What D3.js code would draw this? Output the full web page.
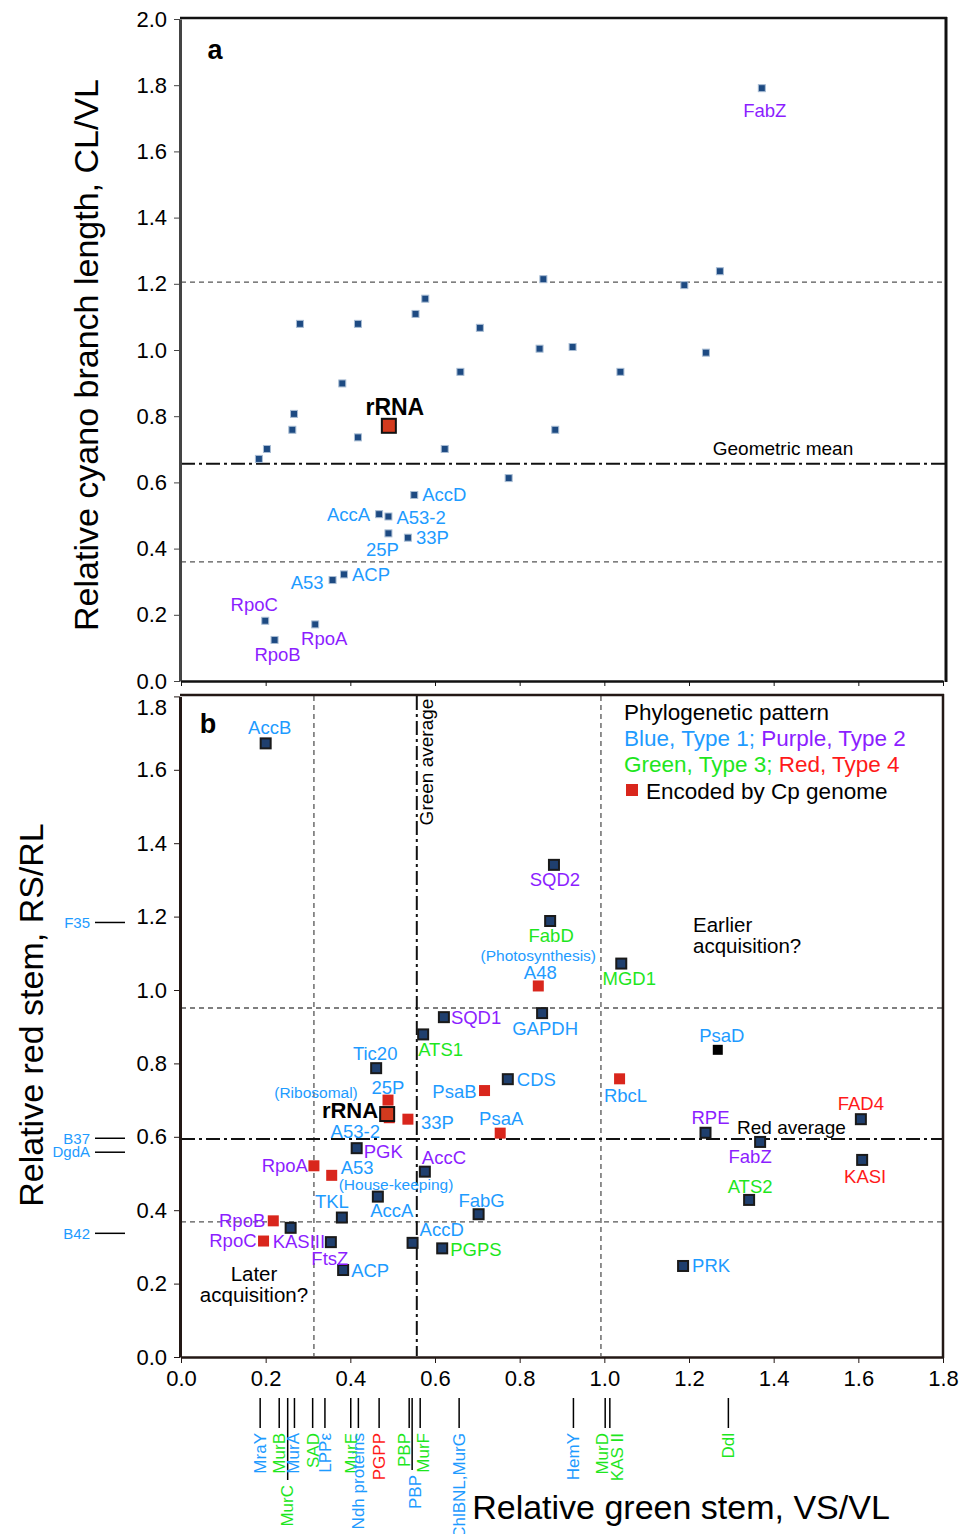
<!DOCTYPE html>
<html>
<head>
<meta charset="utf-8">
<script src="https://cdn.jsdelivr.net/npm/d3@7"></script>
<style>
  body { margin: 0; background: #fff; }
  svg { display: block; font-family: "Liberation Sans", Arial, sans-serif; }
</style>
</head>
<body>
<svg id="chart" width="970" height="1534"></svg>
<script>
'use strict';

// ---- data ----
var typeColors = { blue: '#1e9bff', purple: '#8c1eff', green: '#1ee61e', red: '#ff1a1a', black: '#000' };

// panel a : cyano branch length vs green stem
var aNames = ['', '', '', '', '', '', '', '', '', '', '', '', '', '', '', '', '', '', '', '', '', '',
  'FabZ', 'rRNA', 'AccD', 'AccA', 'A53-2', '25P', '33P', 'A53', 'ACP', 'RpoC', 'RpoB', 'RpoA'];
var aX = [0.184, 0.203, 0.263, 0.267, 0.281, 0.381, 0.418, 0.418, 0.554, 0.577, 0.623, 0.660, 0.706, 0.774,
  0.847, 0.856, 0.884, 0.925, 1.038, 1.189, 1.240, 1.273,
  1.372, 0.491, 0.551, 0.468, 0.490, 0.490, 0.536, 0.358, 0.385, 0.199, 0.221, 0.317];
var aY = [0.671, 0.701, 0.759, 0.807, 1.079, 0.899, 1.079, 0.736, 1.109, 1.155, 0.701, 0.934, 1.067, 0.613,
  1.004, 1.214, 0.759, 1.009, 0.934, 1.196, 0.992, 1.238,
  1.791, 0.771, 0.562, 0.504, 0.497, 0.446, 0.433, 0.305, 0.322, 0.182, 0.124, 0.171];
var aTypes = ['', '', '', '', '', '', '', '', '', '', '', '', '', '', '', '', '', '', '', '', '', '',
  'purple', 'black', 'blue', 'blue', 'blue', 'blue', 'blue', 'blue', 'blue', 'purple', 'purple', 'purple'];
var aLines = { upper: 1.205, mean: 0.656, lower: 0.36 };

// panel b : red stem vs green stem
var bNames = ['AccB', 'SQD2', 'FabD', 'A48', 'MGD1', 'SQD1', 'GAPDH', 'ATS1', 'Tic20', 'CDS', 'PsaB', 'RbcL',
  'PsaD', '25P', 'A53-2', 'rRNA', '33P', 'PsaA', 'RPE', 'FabZ', 'FAD4', 'KASI', 'ATS2', 'PGK', 'RpoA', 'A53',
  'AccC', 'AccA', 'TKL', 'FabG', 'RpoB', 'KASIII', 'RpoC', 'FtsZ', 'AccD', 'PGPS', 'ACP', 'PRK'];
var bX = [0.200, 0.881, 0.872, 0.844, 1.040, 0.621, 0.853, 0.572, 0.461, 0.772, 0.717, 1.036,
  1.268, 0.489, 0.492, 0.487, 0.536, 0.754, 1.239, 1.368, 1.606, 1.609, 1.342, 0.415, 0.314, 0.356,
  0.576, 0.465, 0.380, 0.703, 0.218, 0.259, 0.195, 0.354, 0.547, 0.617, 0.383, 1.186];
var bY = [1.672, 1.341, 1.188, 1.011, 1.072, 0.926, 0.937, 0.879, 0.787, 0.757, 0.726, 0.758,
  0.837, 0.700, 0.652, 0.662, 0.648, 0.610, 0.611, 0.586, 0.648, 0.537, 0.428, 0.569, 0.521, 0.495,
  0.505, 0.437, 0.380, 0.389, 0.371, 0.352, 0.316, 0.313, 0.311, 0.296, 0.237, 0.248];
var bTypes = ['blue', 'purple', 'green', 'blue', 'green', 'purple', 'blue', 'green', 'blue', 'blue', 'blue', 'blue',
  'blue', 'blue', 'blue', 'black', 'blue', 'blue', 'purple', 'purple', 'red', 'red', 'green', 'purple', 'purple', 'blue',
  'purple', 'blue', 'blue', 'blue', 'purple', 'purple', 'purple', 'purple', 'blue', 'green', 'blue', 'blue'];
// nuc = nuclear, cp = encoded by Cp genome
var bMarkers = ['nuc', 'nuc', 'nuc', 'cp', 'nuc', 'nuc', 'nuc', 'nuc', 'nuc', 'nuc', 'cp', 'cp',
  'black', 'cp', 'cp', 'rrna', 'cp', 'cp', 'nuc', 'nuc', 'nuc', 'nuc', 'nuc', 'nuc', 'cp', 'cp',
  'nuc', 'nuc', 'nuc', 'nuc', 'cp', 'nuc', 'cp', 'nuc', 'nuc', 'nuc', 'nuc', 'nuc'];
var bLines = { greenAvg: 0.557, greenLow: 0.314, greenHigh: 0.992, redHigh: 0.951, redAvg: 0.594, redLow: 0.368 };

// genes marked only on the red-stem axis
var sideNames = ['F35', 'B37', 'DgdA', 'B42'];
var sideY = [1.184, 0.596, 0.558, 0.337];

// genes marked only on the green-stem axis
var bottomNames = ['MraY', 'MurB', 'MurC', 'MurA', 'SAD', 'LPP\u03b5', 'MurE', 'Ndh proteins', 'PGPP', 'PBP', 'PBP',
  'MurF', 'ChlBNL,MurG', 'HemY', 'MurD', 'KAS II', 'Ddl'];
var bottomX = [0.187, 0.232, 0.252, 0.268, 0.311, 0.340, 0.401, 0.419, 0.468, 0.539, 0.546,
  0.565, 0.657, 0.927, 1.002, 1.013, 1.293];
var bottomTypes = ['blue', 'green', 'green', 'blue', 'green', 'blue', 'green', 'blue', 'red', 'green', 'blue',
  'green', 'blue', 'blue', 'green', 'green', 'green'];

var xTicks = d3.range(0, 1.81, 0.2);
var aTicks = d3.range(0, 2.01, 0.2);
var bTicks = d3.range(0, 1.81, 0.2);

// ---- layout ----
var svg = d3.select('#chart');
var x = d3.scaleLinear().domain([0, 1.8]).range([181, 943]);
var yA = d3.scaleLinear().domain([0, 2]).range([681, 19]);
var yB = d3.scaleLinear().domain([0, 1.8]).range([1357, 696.4]);

var dashDot = '14,4,3,4';
var dashed = '5,4';
var ink = '#231815';
var fontFam = '"Liberation Sans", Arial, sans-serif';
var labelSize = 18.5;

// label placement: [dx, dy, anchor]
var aLabelPos = {
  'FabZ': [3, 22, 'middle'], 'rRNA': [6, -19, 'middle'], 'AccD': [8, 0, 'start'], 'AccA': [-9, 0, 'end'],
  'A53-2': [8, 1, 'start'], '25P': [-6, 16, 'middle'], '33P': [8, 0, 'start'], 'A53': [-9, 2, 'end'],
  'ACP': [8, 0, 'start'], 'RpoC': [-11, -16, 'middle'], 'RpoB': [3, 15, 'middle'], 'RpoA': [9, 14, 'middle']
};
var bLabelPos = {
  'AccB': [4, -16, 'middle'], 'SQD2': [1, 15, 'middle'], 'FabD': [1, 15, 'middle'], 'A48': [2, -13, 'middle'],
  'MGD1': [8, 15, 'middle'], 'SQD1': [7, 0, 'start'], 'GAPDH': [3, 15, 'middle'], 'ATS1': [-5, 15, 'start'],
  'Tic20': [-1, -15, 'middle'], 'CDS': [9, 0, 'start'], 'PsaB': [-8, 1, 'end'], 'RbcL': [6, 17, 'middle'],
  'PsaD': [4, -14, 'middle'], '25P': [0, -13, 'middle'], 'A53-2': [-34, 14, 'middle'], 'rRNA': [-9, -4, 'end'],
  '33P': [13, 3, 'start'], 'PsaA': [1, -15, 'middle'], 'RPE': [5, -15, 'middle'], 'FabZ': [-10, 15, 'middle'],
  'FAD4': [0, -16, 'middle'], 'KASI': [3, 17, 'middle'], 'ATS2': [1, -13, 'middle'], 'PGK': [7, 3, 'start'],
  'RpoA': [-6, 0, 'end'], 'A53': [9, -8, 'start'], 'AccC': [-3, -14, 'start'], 'AccA': [14, 14, 'middle'],
  'TKL': [-10, -16, 'middle'], 'FabG': [3, -14, 'middle'], 'RpoB': [-8, 0, 'end'], 'KASIII': [-18, 14, 'start'],
  'RpoC': [-7, -1, 'end'], 'FtsZ': [-1, 16, 'middle'], 'AccD': [7, -13, 'start'], 'PGPS': [8, 1, 'start'],
  'ACP': [8, 1, 'start'], 'PRK': [9, 0, 'start']
};
var subNotes = [
  { gene: 'A48', text: '(Photosynthesis)', dx: 0, dy: -30, anchor: 'middle' },
  { gene: '25P', text: '(Ribosomal)', dx: -72, dy: -8, anchor: 'middle' },
  { gene: 'A53', text: '(House-keeping)', dx: 7, dy: 9, anchor: 'start' }
];
var bottomDx = { 2: -1, 3: -1, 9: -5, 10: 3, 11: 3, 14: -3, 15: 7 };
var longTicks = { 2: 1480, 10: 1470 };

function hLine(g, yScale, v, x0, x1, dash, color, width) {
  g.append('line').attr('x1', x0).attr('x2', x1).attr('y1', yScale(v)).attr('y2', yScale(v))
    .attr('stroke', color).attr('stroke-width', width).attr('stroke-dasharray', dash);
}
function vLine(g, v, y0, y1, dash, color, width) {
  g.append('line').attr('x1', x(v)).attr('x2', x(v)).attr('y1', y0).attr('y2', y1)
    .attr('stroke', color).attr('stroke-width', width).attr('stroke-dasharray', dash);
}

// ================= panel a =================
var ga = svg.append('g');

hLine(ga, yA, aLines.upper, 181, 945, dashed, '#555', 1.3);
hLine(ga, yA, aLines.lower, 181, 945, dashed, '#555', 1.3);
hLine(ga, yA, aLines.mean, 181, 945, dashDot, '#111', 2);

ga.append('text').attr('x', 783).attr('y', 455).attr('text-anchor', 'middle')
  .attr('font-size', 19).text('Geometric mean');

// frame
ga.append('line').attr('x1', 180).attr('x2', 947).attr('y1', 18).attr('y2', 18).attr('stroke', '#111').attr('stroke-width', 2.5);
ga.append('line').attr('x1', 946).attr('x2', 946).attr('y1', 17).attr('y2', 682).attr('stroke', '#111').attr('stroke-width', 3);

var axisA = ga.append('g').attr('transform', 'translate(180,0)')
  .call(d3.axisLeft(yA).tickValues(aTicks).tickFormat(d3.format('.1f')).tickSize(6).tickSizeOuter(0));
axisA.select('.domain').attr('stroke', '#444').attr('stroke-width', 3);
axisA.selectAll('.tick line').attr('stroke', '#444');
axisA.selectAll('.tick text').attr('font-size', 22).attr('font-family', fontFam)
  .attr('fill', '#000').attr('x', -13);

var axisAb = ga.append('g').attr('transform', 'translate(0,681)')
  .call(d3.axisBottom(x).tickValues(xTicks).tickFormat('').tickSize(5).tickSizeOuter(0));
axisAb.select('.domain').attr('stroke', '#111').attr('stroke-width', 2.5);
axisAb.selectAll('.tick line').attr('stroke', '#111');

ga.append('text').attr('x', 215).attr('y', 59).attr('text-anchor', 'middle')
  .attr('font-size', 27).attr('font-weight', 'bold').text('a');

ga.append('text').attr('transform', 'translate(98,355) rotate(-90)').attr('text-anchor', 'middle')
  .attr('font-size', 34).text('Relative cyano branch length, CL/VL');

var aData = aX.map(function(v, i) { return { name: aNames[i], x: v, y: aY[i], type: aTypes[i] }; });

ga.selectAll('rect.pa').data(aData.filter(function(d) { return d.name !== 'rRNA'; })).enter()
  .append('rect').attr('class', 'pa')
  .attr('x', function(d) { return x(d.x) - 3.5; }).attr('y', function(d) { return yA(d.y) - 3.5; })
  .attr('width', 7).attr('height', 7)
  .attr('fill', '#1d4a82').attr('stroke', '#a9bdd4').attr('stroke-width', 1);

aData.filter(function(d) { return d.name === 'rRNA'; }).forEach(function(d) {
  ga.append('rect').attr('x', x(d.x) - 7).attr('y', yA(d.y) - 7).attr('width', 14).attr('height', 14)
    .attr('fill', '#d33a1e').attr('stroke', '#111').attr('stroke-width', 2);
});

ga.selectAll('text.la').data(aData.filter(function(d) { return d.name !== ''; })).enter()
  .append('text').attr('class', 'la')
  .attr('x', function(d) { return x(d.x) + aLabelPos[d.name][0]; })
  .attr('y', function(d) { return yA(d.y) + aLabelPos[d.name][1]; })
  .attr('dy', '0.35em')
  .attr('text-anchor', function(d) { return aLabelPos[d.name][2]; })
  .attr('font-size', function(d) { return d.name === 'rRNA' ? 23 : labelSize; })
  .attr('font-weight', function(d) { return d.name === 'rRNA' ? 'bold' : 'normal'; })
  .attr('fill', function(d) { return typeColors[d.type]; })
  .text(function(d) { return d.name; });

// ================= panel b =================
var gb = svg.append('g');

vLine(gb, bLines.greenLow, 696, 1356, dashed, '#555', 1.3);
vLine(gb, bLines.greenHigh, 696, 1356, dashed, '#555', 1.3);
hLine(gb, yB, bLines.redHigh, 181, 942, dashed, '#555', 1.3);
hLine(gb, yB, bLines.redLow, 181, 942, dashed, '#555', 1.3);
hLine(gb, yB, bLines.redAvg, 181, 942, dashDot, '#111', 2);
vLine(gb, bLines.greenAvg, 696, 1356, dashDot, '#111', 2);

gb.append('text').attr('transform', 'translate(433,762) rotate(-90)').attr('text-anchor', 'middle')
  .attr('font-size', 19).text('Green average');
gb.append('text').attr('x', 737).attr('y', 1134).attr('font-size', 19).text('Red average');

// frame
gb.append('line').attr('x1', 180).attr('x2', 944).attr('y1', 695).attr('y2', 695).attr('stroke', ink).attr('stroke-width', 2.5);
gb.append('line').attr('x1', 943).attr('x2', 943).attr('y1', 694).attr('y2', 1358).attr('stroke', ink).attr('stroke-width', 2.5);

var axisB = gb.append('g').attr('transform', 'translate(180,0)')
  .call(d3.axisLeft(yB).tickValues(bTicks).tickFormat(d3.format('.1f')).tickSize(6).tickSizeOuter(0));
axisB.select('.domain').attr('stroke', ink).attr('stroke-width', 3);
axisB.selectAll('.tick line').attr('stroke', ink);
axisB.selectAll('.tick text').attr('font-size', 22).attr('font-family', fontFam)
  .attr('fill', '#000').attr('x', -13)
  .attr('dy', function(d) { return d > 1.7 ? '0.8em' : '0.32em'; });

var axisBx = gb.append('g').attr('transform', 'translate(0,1357)')
  .call(d3.axisBottom(x).tickValues(xTicks).tickFormat(d3.format('.1f')).tickSize(6).tickSizeOuter(0));
axisBx.select('.domain').attr('stroke', ink).attr('stroke-width', 2.5);
axisBx.selectAll('.tick line').attr('stroke', ink);
axisBx.selectAll('.tick text').attr('font-size', 22).attr('font-family', fontFam)
  .attr('fill', '#000').attr('y', 13);

gb.append('text').attr('x', 208).attr('y', 733).attr('text-anchor', 'middle')
  .attr('font-size', 27).attr('font-weight', 'bold').text('b');

gb.append('text').attr('transform', 'translate(43,1015) rotate(-90)').attr('text-anchor', 'middle')
  .attr('font-size', 34).text('Relative red stem, RS/RL');
gb.append('text').attr('x', 681).attr('y', 1519).attr('text-anchor', 'middle')
  .attr('font-size', 34).text('Relative green stem, VS/VL');

// legend
var legend = gb.append('g').attr('font-size', 22.5);
legend.append('text').attr('x', 624).attr('y', 720).text('Phylogenetic pattern');
var lg1 = legend.append('text').attr('x', 624).attr('y', 746);
lg1.append('tspan').attr('fill', typeColors.blue).text('Blue, Type 1; ');
lg1.append('tspan').attr('fill', typeColors.purple).text('Purple, Type 2');
var lg2 = legend.append('text').attr('x', 624).attr('y', 772);
lg2.append('tspan').attr('fill', typeColors.green).text('Green, Type 3; ');
lg2.append('tspan').attr('fill', typeColors.red).text('Red, Type 4');
legend.append('rect').attr('x', 626).attr('y', 784).attr('width', 12).attr('height', 12).attr('fill', '#d9261c');
legend.append('text').attr('x', 646).attr('y', 799).text('Encoded by Cp genome');

// annotations
var early = gb.append('text').attr('font-size', 20.5);
early.append('tspan').attr('x', 693).attr('y', 932).text('Earlier');
early.append('tspan').attr('x', 693).attr('y', 953).text('acquisition?');
var later = gb.append('text').attr('font-size', 20.5).attr('text-anchor', 'middle');
later.append('tspan').attr('x', 254).attr('y', 1281).text('Later');
later.append('tspan').attr('x', 254).attr('y', 1302).text('acquisition?');

var bData = bX.map(function(v, i) {
  return { name: bNames[i], x: v, y: bY[i], type: bTypes[i], marker: bMarkers[i] };
});

var markerOrder = { cp: 0, nuc: 1, black: 1, rrna: 2 };
var bSorted = bData.slice().sort(function(a, b) { return markerOrder[a.marker] - markerOrder[b.marker]; });

gb.selectAll('rect.pb').data(bSorted).enter()
  .append('rect').attr('class', 'pb')
  .each(function(d) {
    var s = d.marker === 'rrna' ? 14 : (d.marker === 'cp' ? 11 : 10);
    var r = d3.select(this)
      .attr('x', x(d.x) - s / 2).attr('y', yB(d.y) - s / 2).attr('width', s).attr('height', s);
    if (d.marker === 'nuc') {
      r.attr('fill', '#1f3f6e').attr('stroke', '#1a1a1a').attr('stroke-width', 2);
    } else if (d.marker === 'cp') {
      r.attr('fill', '#d9261c');
    } else if (d.marker === 'black') {
      r.attr('fill', '#000');
    } else {
      r.attr('fill', '#d33a1e').attr('stroke', '#111').attr('stroke-width', 2);
    }
  });

gb.selectAll('text.lb').data(bData).enter()
  .append('text').attr('class', 'lb')
  .attr('x', function(d) { return x(d.x) + bLabelPos[d.name][0]; })
  .attr('y', function(d) { return yB(d.y) + bLabelPos[d.name][1]; })
  .attr('dy', '0.35em')
  .attr('text-anchor', function(d) { return bLabelPos[d.name][2]; })
  .attr('font-size', function(d) { return d.name === 'rRNA' ? 22 : labelSize; })
  .attr('font-weight', function(d) { return d.name === 'rRNA' ? 'bold' : 'normal'; })
  .attr('fill', function(d) { return typeColors[d.type]; })
  .text(function(d) { return d.name; });

subNotes.forEach(function(n) {
  var d = bData[bNames.indexOf(n.gene)];
  gb.append('text').attr('x', x(d.x) + n.dx).attr('y', yB(d.y) + n.dy).attr('dy', '0.35em')
    .attr('text-anchor', n.anchor).attr('font-size', 15.5).attr('fill', typeColors.blue).text(n.text);
});

// side marks on the red stem axis
sideNames.forEach(function(name, i) {
  var yy = yB(sideY[i]);
  gb.append('line').attr('x1', 95).attr('x2', 125).attr('y1', yy).attr('y2', yy)
    .attr('stroke', '#000').attr('stroke-width', 1.5);
  gb.append('text').attr('x', 90).attr('y', yy).attr('dy', '0.35em').attr('text-anchor', 'end')
    .attr('font-size', 15).attr('fill', typeColors.blue).text(name);
});

// bottom marks on the green stem axis
bottomNames.forEach(function(name, i) {
  var xx = x(bottomX[i]);
  var y1 = longTicks[i] || 1428;
  gb.append('line').attr('x1', xx).attr('x2', xx).attr('y1', 1398).attr('y2', y1)
    .attr('stroke', '#000').attr('stroke-width', 1.5);
  var lx = xx + (bottomDx[i] || 0);
  var ly = y1 + 5;
  gb.append('text').attr('transform', 'translate(' + lx + ',' + ly + ') rotate(-90)')
    .attr('text-anchor', 'end').attr('dy', '0.35em')
    .attr('font-size', 17).attr('fill', typeColors[bottomTypes[i]]).text(name);
});
</script>
</body>
</html>
